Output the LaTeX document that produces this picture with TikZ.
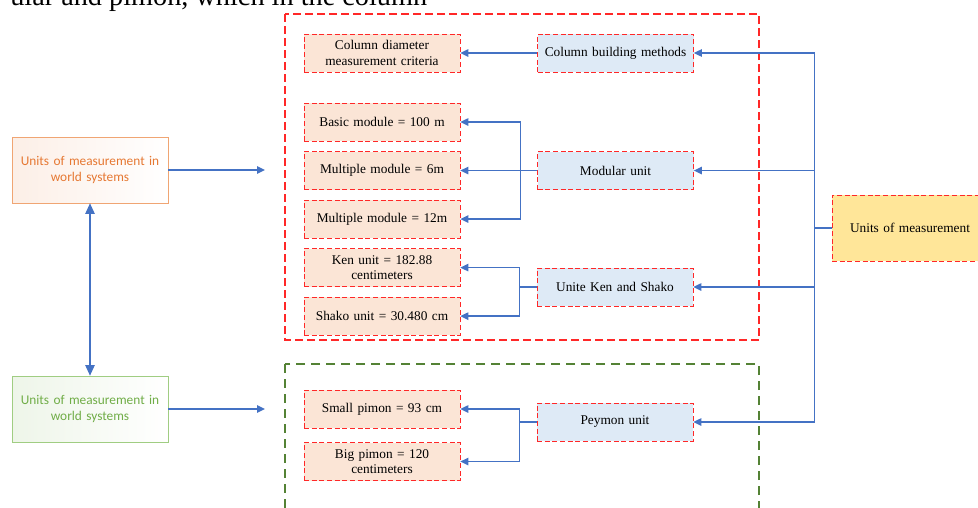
\documentclass[tikz,border=0pt]{standalone}
\usepackage{fontspec}
\setmainfont{Liberation Serif}
\newfontfamily\calibri{Carlito}
\usetikzlibrary{arrows.meta, positioning}
\definecolor{lineblue}{RGB}{68,114,196}
\definecolor{dashred}{RGB}{255,40,40}
\definecolor{beige}{RGB}{251,229,214}
\definecolor{paleblue}{RGB}{222,234,246}
\definecolor{gold}{RGB}{255,230,153}
\definecolor{frgreen}{RGB}{84,130,53}
\definecolor{ortext}{RGB}{230,120,50}
\definecolor{orline}{RGB}{240,165,115}
\definecolor{grtext}{RGB}{112,173,71}
\definecolor{grline}{RGB}{160,205,130}

\begin{document}
\begin{tikzpicture}[x=0.75pt, y=-0.75pt,
    item/.style={draw=dashred, dash pattern=on 3.75pt off 2pt, fill=beige,
                 minimum width=117pt, minimum height=28.5pt, text width=112pt,
                 align=center, inner sep=1pt, font=\fontsize{10}{11.5}\selectfont},
    group/.style={item, fill=paleblue},
    world/.style={draw, minimum width=117pt, minimum height=49.5pt, text width=112pt,
                  align=center, inner sep=1pt, font=\calibri\fontsize{10}{11.75}\selectfont},
    arr/.style={-{Triangle[length=6pt, width=5.5pt]}, line width=1.1pt, lineblue}
  ]
    \clip (0,0) rectangle (978,507);
    \node[anchor=base west, inner sep=0pt, font=\fontsize{21.2}{25}\selectfont] (captext) at (10,5.5)
      {ular and pimon, which in the column};
    % group frames
    \draw[dashred, line width=0.9pt, dash pattern=on 6pt off 3pt] (285,14) rectangle (759,340);
    \draw[frgreen, line width=0.8pt, dash pattern=on 6.75pt off 4.5pt] (285,364) rectangle (759,530);
    % world systems
    \node[world, draw=orline, text=ortext, left color=ortext!12, right color=white] (worldA) at (90,170)
      {Units of measurement in\\world systems};
    \node[world, draw=grline, text=grtext, left color=grtext!12, right color=white] (worldB) at (90,409)
      {Units of measurement in\\world systems};
    \coordinate (redin) at (265,170);
    \coordinate (grnin) at (265,409);
    % measurement items
    \node[item] (diam) at (382,53) {Column diameter\\measurement criteria};
    \node[item] (basic) at (382,122) {Basic module = 100 m};
    \node[item, below=7.5pt of basic] (mult6) {Multiple module = 6m};
    \node[item, below=7.5pt of mult6] (mult12) {Multiple module = 12m};
    \node[item, below=7.5pt of mult12] (ken) {Ken unit = 182.88\\centimeters};
    \node[item, below=7.5pt of ken] (shako) {Shako unit = 30.480 cm};
    \node[item] (small) at (382,409) {Small pimon = 93 cm};
    \node[item, below=10.5pt of small] (big) {Big pimon = 120\\centimeters};
    % unit groups
    \node[group, right=57.75pt of diam] (colb) {Column building methods};
    \node[group, right=57.75pt of mult6] (modu) {Modular unit};
    \node[group] (kensh) at (615,287) {Unite Ken and Shako};
    \node[group] (peym) at (615,422) {Peymon unit};
    \node[item, fill=gold, minimum height=49.5pt] (units) at (910,228) {Units of measurement};
    % connectors
    \draw[arr] (worldA) -- (redin);
    \draw[arr] (worldB) -- (grnin);
    \draw[arr, {Triangle[length=8pt, width=7pt]}-{Triangle[length=8pt, width=7pt]}] (worldA) -- (worldB);
    \draw[arr] (colb) -- (diam);
    \foreach \t in {basic, mult6, mult12}
      \draw[arr] (modu.west) -- ++(-17,0) |- (\t.east);
    \foreach \t in {ken, shako}
      \draw[arr] (kensh.west) -- ++(-17,0) |- (\t.east);
    \foreach \t in {small, big}
      \draw[arr] (peym.west) -- ++(-17,0) |- (\t.east);
    \foreach \t in {colb, modu, kensh, peym}
      \draw[arr] (units.west) -- ++(-17,0) |- (\t.east);
  \end{tikzpicture}
\end{document}
